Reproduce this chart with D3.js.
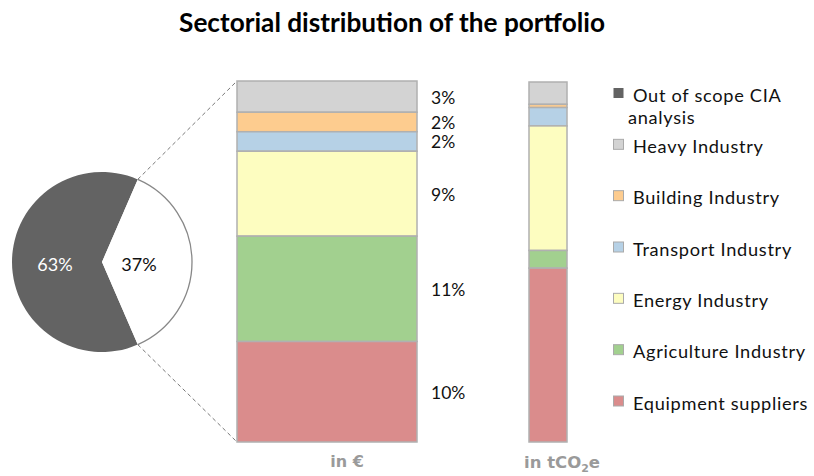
<!DOCTYPE html>
<html>
<head>
<meta charset="utf-8">
<script src="https://cdn.jsdelivr.net/npm/d3@7"></script>
<style>
  body { margin: 0; background: #fff; }
  text { font-family: "Lato", "Noto Sans", sans-serif; }
  .caption { font-family: "DejaVu Sans", sans-serif; }
  .legend text { letter-spacing: 0.7px; }
</style>
</head>
<body>
<div id="chart"></div>
<script>
// pie: share of portfolio in / out of the CIA analysis scope
const pieLabels = ["Out of scope CIA analysis", "In scope"];
const pieValues = [63, 37];

// sectors from top of the bars to the bottom
const sectors = ["Heavy Industry", "Building Industry", "Transport Industry",
  "Energy Industry", "Agriculture Industry", "Equipment suppliers"];
const euroValues = [3.2, 2.0, 2.0, 8.7, 10.8, 10.3];      // % of total portfolio
const euroLabels = ["3%", "2%", "2%", "9%", "11%", "10%"];
const co2Values = [6.2, 0.9, 5.1, 34.6, 4.9, 48.3];        // % of tCO2e
const colors = ["#d3d3d3", "#fdcc8f", "#b6d1e6", "#fdfdc0", "#a2d08f", "#da8c8c"];
const outColor = "#636363";

const width = 814, height = 476;

const svg = d3.select("#chart").append("svg")
  .attr("width", width)
  .attr("height", height);

svg.append("text")
  .attr("x", 392)
  .attr("y", 32)
  .attr("text-anchor", "middle")
  .attr("font-size", 26.2)
  .attr("font-weight", "bold")
  .attr("fill", "#000")
  .text("Sectorial distribution of the portfolio");

// ---- pie ----
const cx = 102, cy = 262, r = 90;
const inAngle = 2 * Math.PI * pieValues[1] / d3.sum(pieValues);

const pie = d3.pie().sort(null)
  .startAngle(Math.PI / 2 - inAngle / 2)
  .endAngle(Math.PI / 2 - inAngle / 2 + 2 * Math.PI);
const arcs = pie([pieValues[1], pieValues[0]]);
const arc = d3.arc().innerRadius(0).outerRadius(r);

const pieG = svg.append("g").attr("transform", `translate(${cx},${cy})`);

pieG.append("path")
  .attr("d", arc(arcs[1]))
  .attr("fill", outColor);

pieG.append("path")
  .attr("d", arc(arcs[0]))
  .attr("fill", "#fff");

// outline only along the white slice's curve
pieG.append("path")
  .attr("d", d3.arc().innerRadius(r).outerRadius(r)(arcs[0]))
  .attr("fill", "none")
  .attr("stroke", "#888")
  .attr("stroke-width", 1.3);

pieG.append("text")
  .attr("x", -47).attr("y", 8.5)
  .attr("text-anchor", "middle")
  .attr("font-size", 18)
  .attr("fill", "#fff")
  .text(pieValues[0] + "%");

pieG.append("text")
  .attr("x", 37).attr("y", 8.5)
  .attr("text-anchor", "middle")
  .attr("font-size", 18)
  .attr("fill", "#111")
  .text(pieValues[1] + "%");

// ---- stacked bars ----
const barTop = 81, barBottom = 442;

function stackOf(values) {
  let acc = 0;
  return values.map((v, i) => {
    const d = { i, y0: acc, y1: acc + v, v };
    acc += v;
    return d;
  });
}

const yEuro = d3.scaleLinear().domain([0, d3.sum(euroValues)]).range([barTop, barBottom]);
const yCo2 = d3.scaleLinear().domain([0, d3.sum(co2Values)]).range([barTop + 1, barBottom]);

function drawBar(values, y, x0, w) {
  const g = svg.append("g");
  g.selectAll("rect")
    .data(stackOf(values))
    .join("rect")
    .attr("x", x0)
    .attr("y", (d) => y(d.y0))
    .attr("width", w)
    .attr("height", (d) => y(d.y1) - y(d.y0))
    .attr("fill", (d) => colors[d.i])
    .attr("stroke", "#b0b0b0")
    .attr("stroke-width", 1.5);
  return g;
}

const euroStack = stackOf(euroValues);
drawBar(euroValues, yEuro, 237, 180);
drawBar(co2Values, yCo2, 529, 38);

svg.append("g").selectAll("text")
  .data(euroStack)
  .join("text")
  .attr("x", 431)
  .attr("y", (d) => yEuro((d.y0 + d.y1) / 2) + 7)
  .attr("font-size", 17.5)
  .attr("fill", "#111")
  .text((d) => euroLabels[d.i]);

// dashed connectors from pie wedge to the euro bar
const a0 = arcs[0].startAngle, a1 = arcs[0].endAngle;
const p0 = [cx + r * Math.sin(a0), cy - r * Math.cos(a0)];
const p1 = [cx + r * Math.sin(a1), cy - r * Math.cos(a1)];
[[p0, [237, barTop]], [p1, [237, barBottom]]].forEach(([a, b]) => {
  svg.append("line")
    .attr("x1", a[0]).attr("y1", a[1])
    .attr("x2", b[0]).attr("y2", b[1])
    .attr("stroke", "#777")
    .attr("stroke-width", 1)
    .attr("stroke-dasharray", "4,3");
});

// captions under the bars
svg.append("text")
  .attr("class", "caption")
  .attr("x", 347).attr("y", 467)
  .attr("text-anchor", "middle")
  .attr("font-size", 16)
  .attr("font-weight", "bold")
  .attr("fill", "#9a9a9a")
  .text("in €");

const co2Label = svg.append("text")
  .attr("class", "caption")
  .attr("x", 562).attr("y", 468)
  .attr("text-anchor", "middle")
  .attr("font-size", 16.5)
  .attr("font-weight", "bold")
  .attr("fill", "#9a9a9a");
co2Label.append("tspan").text("in tCO");
co2Label.append("tspan").attr("font-size", 11).attr("dy", 4).text("2");
co2Label.append("tspan").attr("dy", -4).text("e");

// ---- legend ----
const legendItems = [{ label: pieLabels[0], color: outColor }]
  .concat(sectors.map((s, i) => ({ label: s, color: colors[i] })));
const legendY = d3.scalePoint()
  .domain(d3.range(legendItems.length))
  .range([93, 401]);

const legend = svg.append("g").attr("class", "legend");
legendItems.forEach((d, i) => {
  const yy = legendY(i);
  legend.append("rect")
    .attr("x", 613.5).attr("y", yy - 5)
    .attr("width", 10).attr("height", 10)
    .attr("fill", d.color)
    .attr("stroke", i === 0 ? "none" : "#aaa")
    .attr("stroke-width", 1);
  if (i === 0) {
    legend.append("text")
      .attr("x", 633).attr("y", yy + 8.5)
      .attr("font-size", 18.2).attr("fill", "#111")
      .text("Out of scope CIA");
    legend.append("text")
      .attr("x", 628).attr("y", yy + 30.5)
      .attr("font-size", 18.2).attr("fill", "#111")
      .text("analysis");
  } else {
    legend.append("text")
      .attr("x", 633).attr("y", yy + 8.5)
      .attr("font-size", 18.2).attr("fill", "#111")
      .text(d.label);
  }
});
</script>
</body>
</html>
